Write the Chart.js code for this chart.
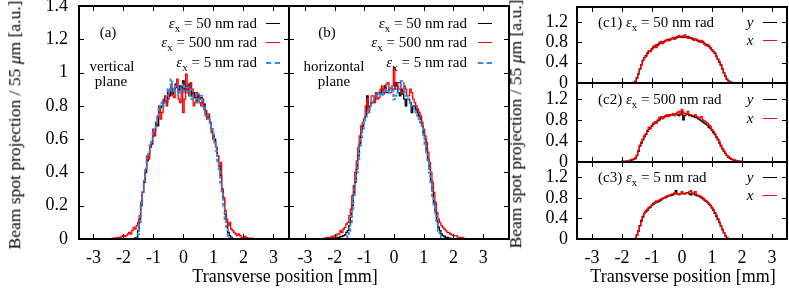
<!DOCTYPE html>
<html><head><meta charset="utf-8">
<script src="https://cdn.jsdelivr.net/npm/chart.js@4.4.1/dist/chart.umd.min.js"></script>
<style>
html,body{margin:0;padding:0;background:#fff;}
#wrap{position:relative;width:789px;height:289px;overflow:hidden;font-family:"Liberation Serif","Times New Roman",serif;color:#000;}
canvas{position:absolute;left:0;top:0;}
.t{position:absolute;white-space:nowrap;line-height:1;font-size:15px;}
.c{transform:translate(-50%,-50%);}
.r{transform:translate(-100%,-50%);}
.l{transform:translate(0,-50%);}
.s{font-size:11px;position:relative;top:4px;}
.ln{position:absolute;width:14px;height:0;}
.ttl{position:absolute;white-space:nowrap;line-height:1;font-size:18px;transform:translate(-50%,-50%);}
.yt{position:absolute;white-space:nowrap;line-height:1;font-size:17.5px;transform:translate(-50%,-50%) rotate(-90deg);}
</style></head>
<body><div id="wrap">
<canvas id="ca" width="789" height="289"></canvas>
<canvas id="cb" width="789" height="289"></canvas>
<canvas id="cc1" width="789" height="289"></canvas>
<canvas id="cc2" width="789" height="289"></canvas>
<canvas id="cc3" width="789" height="289"></canvas>

<div class="yt" style="left:15px;top:125px;">Beam spot projection / 55 <i>μ</i>m [a.u.]</div>
<div class="yt" style="left:516px;top:124px;">Beam spot projection / 55 <i>μ</i>m [a.u.]</div>
<div class="ttl" style="left:285px;top:276px;">Transverse position [mm]</div>
<div class="ttl" style="left:683px;top:276px;">Transverse position [mm]</div>

<div class="t c" style="left:108px;top:32px;">(a)</div>
<div class="t c" style="left:112px;top:66px;">vertical</div>
<div class="t c" style="left:111px;top:81px;">plane</div>
<div class="t r" style="left:257px;top:23px;"><i>ε</i><span class="s">x</span> = 50 nm rad</div>
<div class="t r" style="left:257px;top:42px;"><i>ε</i><span class="s">x</span> = 500 nm rad</div>
<div class="t r" style="left:257px;top:62px;"><i>ε</i><span class="s">x</span> = 5 nm rad</div>
<div class="ln" style="left:266px;top:23px;border-top:1.5px solid #000;"></div>
<div class="ln" style="left:266px;top:42px;border-top:1.5px solid #ff0000;"></div>
<div class="ln" style="left:266px;top:62px;border-top:2px dashed #2a8fe8;"></div>

<div class="t c" style="left:327px;top:32px;">(b)</div>
<div class="t c" style="left:334px;top:66px;">horizontal</div>
<div class="t c" style="left:334px;top:81px;">plane</div>
<div class="t r" style="left:467px;top:23px;"><i>ε</i><span class="s">x</span> = 50 nm rad</div>
<div class="t r" style="left:467px;top:42px;"><i>ε</i><span class="s">x</span> = 500 nm rad</div>
<div class="t r" style="left:467px;top:62px;"><i>ε</i><span class="s">x</span> = 5 nm rad</div>
<div class="ln" style="left:478px;top:23px;border-top:1.5px solid #000;"></div>
<div class="ln" style="left:478px;top:42px;border-top:1.5px solid #ff0000;"></div>
<div class="ln" style="left:478px;top:62px;border-top:2px dashed #2a8fe8;"></div>

<div class="t l" style="left:598px;top:22px;">(c1) <i>ε</i><span class="s">x</span> = 50 nm rad</div>
<div class="t c" style="left:750px;top:22px;"><i>y</i></div>
<div class="t c" style="left:750px;top:40px;"><i>x</i></div>
<div class="ln" style="left:763px;top:22px;border-top:1.5px solid #000;"></div>
<div class="ln" style="left:763px;top:40px;border-top:1.5px solid #ff0000;"></div>

<div class="t l" style="left:598px;top:99px;">(c2) <i>ε</i><span class="s">x</span> = 500 nm rad</div>
<div class="t c" style="left:750px;top:99px;"><i>y</i></div>
<div class="t c" style="left:750px;top:118px;"><i>x</i></div>
<div class="ln" style="left:763px;top:99px;border-top:1.5px solid #000;"></div>
<div class="ln" style="left:763px;top:118px;border-top:1.5px solid #ff0000;"></div>

<div class="t l" style="left:598px;top:177px;">(c3) <i>ε</i><span class="s">x</span> = 5 nm rad</div>
<div class="t c" style="left:750px;top:177px;"><i>y</i></div>
<div class="t c" style="left:750px;top:195px;"><i>x</i></div>
<div class="ln" style="left:763px;top:177px;border-top:1.5px solid #000;"></div>
<div class="ln" style="left:763px;top:195px;border-top:1.5px solid #ff0000;"></div>
</div>
<script>
// Bin centres [mm], 0.05 mm spacing
const xPos = [-2.4,-2.35,-2.3,-2.25,-2.2,-2.15,-2.1,-2.05,
 -2.0,-1.95,-1.9,-1.85,-1.8,-1.75,-1.7,-1.65,-1.6,-1.55,
 -1.5,-1.45,-1.4,-1.35,-1.3,-1.25,-1.2,-1.15,-1.1,-1.05,
 -1.0,-0.95,-0.9,-0.85,-0.8,-0.75,-0.7,-0.65,-0.6,-0.55,
 -0.5,-0.45,-0.4,-0.35,-0.3,-0.25,-0.2,-0.15,-0.1,-0.05,
 0,0.05,0.1,0.15,0.2,0.25,0.3,0.35,0.4,0.45,
 0.5,0.55,0.6,0.65,0.7,0.75,0.8,0.85,0.9,0.95,
 1.0,1.05,1.1,1.15,1.2,1.25,1.3,1.35,1.4,1.45,
 1.5,1.55,1.6,1.65,1.7,1.75,1.8,1.85,1.9,1.95,
 2.0,2.05,2.1,2.15,2.2,2.25,2.3,2.35,2.4];

// (a) vertical plane
const aEmit50 = [0,0,0,0,0,0,0,0,
 0,0,0,0,0,0,0,0,0.005,0.01,
 0.05,0.12,0.2,0.28,0.34,0.4,0.47,0.5,0.55,0.57,
 0.62,0.65,0.7,0.68,0.76,0.79,0.8,0.83,0.84,0.82,
 0.88,0.86,0.9,0.87,0.9,0.93,0.91,0.88,0.92,0.9,
 0.95,0.9,0.92,0.88,0.93,0.89,0.86,0.88,0.85,0.83,
 0.86,0.84,0.85,0.8,0.81,0.77,0.75,0.72,0.7,0.66,
 0.62,0.6,0.55,0.5,0.44,0.38,0.3,0.24,0.15,0.1,
 0.04,0.02,0.01,0,0,0,0,0,0,0,
 0,0,0,0,0,0,0,0,0];
const aEmit500 = [0,0.005,0,0.005,0.01,0.005,0.01,0.015,
 0.02,0.015,0.02,0.03,0.04,0.03,0.05,0.07,0.06,0.08,
 0.1,0.14,0.22,0.28,0.35,0.42,0.5,0.48,0.55,0.58,
 0.66,0.62,0.68,0.74,0.8,0.72,0.76,0.84,0.86,0.8,
 0.84,0.9,0.93,0.86,0.85,0.92,0.96,0.84,0.82,0.9,
 0.76,0.84,0.99,0.9,0.86,0.94,0.9,0.8,0.82,0.88,
 0.87,0.82,0.8,0.84,0.78,0.74,0.72,0.75,0.7,0.64,
 0.6,0.58,0.55,0.5,0.44,0.46,0.3,0.25,0.17,0.12,
 0.08,0.1,0.06,0.05,0.04,0.03,0.02,0.03,0.02,0.01,
 0.01,0.015,0.01,0.005,0.005,0,0.005,0,0];
const aEmit5 = [0,0,0,0,0,0,0,0,
 0,0,0,0,0,0,0,0,0,0,
 0.03,0.1,0.2,0.28,0.35,0.42,0.5,0.52,0.57,0.6,
 0.64,0.66,0.7,0.74,0.78,0.8,0.82,0.8,0.84,0.86,
 0.9,0.88,0.96,0.9,0.88,0.92,0.92,0.87,0.89,0.91,
 0.93,0.88,0.88,0.91,0.9,0.86,0.84,0.87,0.87,0.84,
 0.82,0.84,0.86,0.8,0.79,0.76,0.75,0.72,0.7,0.67,
 0.63,0.58,0.53,0.47,0.41,0.34,0.27,0.2,0.12,0.06,
 0.02,0.005,0,0,0,0,0,0,0,0,
 0,0,0,0,0,0,0,0,0];

// (b) horizontal plane
const bEmit50 = [0,0,0,0,0,0,0,0,
 0.005,0.005,0.01,0.01,0.015,0.015,0.02,0.025,0.04,0.05,
 0.08,0.13,0.2,0.27,0.34,0.42,0.5,0.57,0.64,0.68,
 0.72,0.74,0.86,0.78,0.8,0.82,0.82,0.85,0.86,0.88,
 0.88,0.87,0.9,0.89,0.92,0.88,0.88,0.9,0.91,0.9,
 0.9,0.94,0.92,0.88,0.86,0.9,0.87,0.84,0.8,0.84,
 0.84,0.82,0.76,0.8,0.8,0.78,0.76,0.74,0.72,0.68,
 0.64,0.6,0.54,0.48,0.42,0.35,0.29,0.22,0.16,0.11,
 0.07,0.05,0.03,0.02,0.015,0.01,0.01,0.005,0.005,0,
 0,0,0,0,0,0,0,0,0];
const bEmit500 = [0.005,0,0.005,0.01,0.005,0.01,0.015,0.01,
 0.02,0.02,0.03,0.03,0.05,0.04,0.06,0.07,0.09,0.1,
 0.14,0.18,0.26,0.32,0.4,0.47,0.55,0.62,0.68,0.7,
 0.72,0.8,0.84,0.76,0.8,0.86,0.86,0.82,0.88,0.84,
 0.85,0.9,0.92,0.87,0.9,0.93,0.94,0.88,0.88,0.92,
 1.03,0.9,0.9,0.94,0.94,0.88,0.88,0.92,0.9,0.86,
 0.86,0.9,0.88,0.84,0.82,0.8,0.78,0.76,0.74,0.7,
 0.66,0.62,0.58,0.52,0.46,0.4,0.34,0.28,0.22,0.16,
 0.12,0.1,0.08,0.07,0.06,0.05,0.04,0.04,0.03,0.025,
 0.02,0.02,0.02,0.01,0.01,0.01,0.01,0.005,0.005];
const bEmit5 = [0,0,0,0,0,0,0,0,
 0,0,0,0,0,0,0,0,0.01,0.02,
 0.05,0.1,0.18,0.25,0.33,0.4,0.48,0.55,0.6,0.65,
 0.7,0.72,0.76,0.78,0.8,0.82,0.84,0.85,0.86,0.86,
 0.88,0.87,0.86,0.88,0.9,0.89,0.88,0.9,0.92,0.9,
 0.84,0.86,0.88,0.9,0.92,0.95,0.95,0.9,0.86,0.86,
 0.84,0.82,0.8,0.79,0.78,0.76,0.74,0.72,0.7,0.67,
 0.62,0.57,0.52,0.46,0.4,0.33,0.26,0.2,0.14,0.09,
 0.05,0.02,0.01,0,0,0,0,0,0,0,
 0,0,0,0,0,0,0,0,0];

// (c1) 50 nm rad, (c2) 500 nm rad, (c3) 5 nm rad : y (black) and x (red) projections
const c1Y = [0,0,0,0,0,0,0,0,
 0,0,0,0,0,0,0,0,0.01,0.03,
 0.1,0.18,0.28,0.36,0.44,0.5,0.54,0.58,0.62,0.64,
 0.68,0.7,0.72,0.75,0.76,0.78,0.8,0.8,0.82,0.83,
 0.84,0.86,0.86,0.87,0.88,0.89,0.9,0.9,0.9,0.91,
 0.92,0.9,0.9,0.91,0.92,0.89,0.88,0.88,0.86,0.86,
 0.84,0.83,0.82,0.81,0.8,0.78,0.76,0.74,0.72,0.69,
 0.66,0.62,0.58,0.53,0.47,0.41,0.35,0.28,0.2,0.13,
 0.07,0.04,0.02,0.01,0.005,0,0,0,0,0,
 0,0,0,0,0,0,0,0,0];
const c1X = [0,0,0,0,0,0,0,0,
 0,0,0,0,0,0,0,0,0.01,0.03,
 0.09,0.18,0.27,0.36,0.45,0.5,0.52,0.6,0.64,0.62,
 0.66,0.72,0.74,0.7,0.74,0.8,0.82,0.78,0.8,0.84,
 0.86,0.83,0.84,0.88,0.9,0.86,0.88,0.92,0.94,0.9,
 0.9,0.93,0.95,0.9,0.88,0.9,0.9,0.86,0.84,0.87,
 0.86,0.82,0.8,0.84,0.82,0.77,0.74,0.76,0.74,0.7,
 0.64,0.63,0.6,0.52,0.46,0.42,0.36,0.28,0.2,0.14,
 0.08,0.04,0.02,0.01,0,0,0,0,0,0,
 0,0,0,0,0,0,0,0,0];
const c2Y = [0,0,0,0,0,0,0.005,0.005,
 0.01,0.01,0.01,0.015,0.02,0.02,0.03,0.04,0.05,0.07,
 0.12,0.2,0.3,0.36,0.42,0.48,0.52,0.58,0.62,0.64,
 0.68,0.72,0.74,0.76,0.78,0.8,0.84,0.84,0.86,0.86,
 0.88,0.88,0.9,0.89,0.9,0.9,0.92,0.9,0.88,0.9,
 0.96,0.8,0.88,0.92,0.92,0.88,0.88,0.86,0.86,0.85,
 0.84,0.82,0.8,0.78,0.76,0.74,0.72,0.7,0.66,0.64,
 0.6,0.56,0.52,0.47,0.42,0.36,0.3,0.25,0.2,0.16,
 0.12,0.09,0.07,0.05,0.04,0.03,0.02,0.015,0.01,0.01,
 0.005,0.005,0,0,0,0,0,0,0];
const c2X = [0,0,0,0,0,0,0,0.005,
 0.01,0.01,0.01,0.015,0.02,0.03,0.04,0.05,0.06,0.08,
 0.13,0.22,0.32,0.38,0.44,0.5,0.54,0.6,0.66,0.64,
 0.7,0.74,0.76,0.74,0.8,0.84,0.86,0.82,0.84,0.88,
 0.9,0.86,0.88,0.9,0.92,0.88,0.9,0.94,0.96,0.9,
 1.0,0.94,0.92,0.9,0.96,0.9,0.9,0.88,0.88,0.9,
 0.86,0.84,0.84,0.86,0.8,0.78,0.76,0.74,0.7,0.68,
 0.62,0.58,0.54,0.48,0.44,0.38,0.32,0.26,0.22,0.17,
 0.13,0.1,0.08,0.06,0.05,0.04,0.03,0.02,0.02,0.01,
 0.01,0.005,0.005,0,0,0,0,0,0];
const c3Y = [0,0,0,0,0,0,0,0,
 0,0,0,0,0,0,0,0,0,0.01,
 0.08,0.16,0.26,0.36,0.44,0.5,0.53,0.56,0.6,0.62,
 0.66,0.68,0.7,0.72,0.72,0.74,0.76,0.78,0.8,0.8,
 0.82,0.84,0.84,0.85,0.86,0.88,0.94,0.88,0.88,0.88,
 0.9,0.89,0.88,0.9,0.9,0.88,0.86,0.88,0.88,0.86,
 0.84,0.84,0.82,0.8,0.78,0.76,0.74,0.72,0.68,0.65,
 0.6,0.56,0.5,0.44,0.38,0.32,0.25,0.18,0.12,0.06,
 0.02,0.005,0,0,0,0,0,0,0,0,
 0,0,0,0,0,0,0,0,0];
const c3X = [0,0,0,0,0,0,0,0,
 0,0,0,0,0,0,0,0,0,0.01,
 0.07,0.15,0.25,0.34,0.42,0.5,0.55,0.58,0.62,0.63,
 0.66,0.7,0.72,0.74,0.74,0.76,0.78,0.79,0.8,0.82,
 0.84,0.85,0.86,0.87,0.88,0.9,0.9,0.88,0.86,0.88,
 0.92,0.88,0.88,0.9,0.9,0.92,0.94,0.9,0.9,0.92,
 0.86,0.85,0.84,0.82,0.8,0.77,0.74,0.72,0.7,0.66,
 0.62,0.57,0.52,0.46,0.4,0.33,0.26,0.19,0.13,0.07,
 0.03,0.01,0,0,0,0,0,0,0,0,
 0,0,0,0,0,0,0,0,0];

// Tick values and labels
const xTicks = [-3,-2,-1,0,1,2,3];
const xTickLabels = ['-3','-2','-1','0','1','2','3'];
const yTicksAB = [0,0.2,0.4,0.6,0.8,1.0,1.2,1.4];
const yTickLabelsAB = ['0','0.2','0.4','0.6','0.8','1','1.2','1.4'];
const yTicksC = [0,0.4,0.8,1.2];
const yTickLabelsC = ['0','0.4','0.8','1.2'];

const BLACK = '#000000', RED = '#ff0000', BLUE = '#2a8fe8';
const FONT = {family: 'Liberation Serif', size: 18};

const framePlugin = {
  id: 'frame',
  afterDatasetsDraw(chart, args, o) {
    const {ctx, chartArea: a, scales} = chart;
    ctx.save();
    ctx.strokeStyle = '#000';
    ctx.lineWidth = 1;
    const L = 5;
    ctx.beginPath();
    o.xt.forEach(v => {
      const p = Math.round(scales.x.getPixelForValue(v)) + 0.5;
      ctx.moveTo(p, a.bottom); ctx.lineTo(p, a.bottom - L);
      ctx.moveTo(p, a.top); ctx.lineTo(p, a.top + L);
    });
    o.yt.forEach(v => {
      const p = Math.round(scales.y.getPixelForValue(v)) + 0.5;
      ctx.moveTo(a.left, p); ctx.lineTo(a.left + L, p);
      ctx.moveTo(a.right, p); ctx.lineTo(a.right - L, p);
    });
    ctx.stroke();
    ctx.lineWidth = 2;
    ctx.strokeRect(a.left, a.top, a.right - a.left, a.bottom - a.top);
    ctx.restore();
  }
};

function ds(vals, color, order, dash) {
  return {
    data: xPos.map((x, i) => ({x: x, y: vals[i]})),
    borderColor: color,
    borderWidth: dash ? 2 : 1.3,
    borderDash: dash || [],
    stepped: 'middle',
    pointRadius: 0,
    fill: false,
    order: order
  };
}

function panel(id, sets, o) {
  new Chart(document.getElementById(id), {
    type: 'line',
    data: {datasets: sets},
    plugins: [framePlugin],
    options: {
      responsive: false, animation: false, devicePixelRatio: 1,
      layout: {padding: o.pad},
      plugins: {legend: {display: false}, tooltip: {enabled: false}, frame: {xt: xTicks, yt: o.yt}},
      scales: {
        x: {
          type: 'linear', min: o.xmin, max: o.xmax,
          display: o.showX,
          grid: {display: false, drawTicks: false},
          border: {display: false},
          ticks: {color: '#000', font: FONT, padding: 8, autoSkip: false, maxRotation: 0,
                  callback: (v) => { const k = xTicks.indexOf(v); return k >= 0 ? xTickLabels[k] : ''; }},
          afterBuildTicks: (s) => { s.ticks = xTicks.map(v => ({value: v})); },
          afterFit: (s) => { s.height = o.showX ? 50 : 0; s.paddingLeft = 0; s.paddingRight = 0; s.paddingTop = 0; s.paddingBottom = 0; }
        },
        y: {
          type: 'linear', min: 0, max: o.ymax,
          display: o.showY,
          grid: {display: false, drawTicks: false},
          border: {display: false},
          ticks: {color: '#000', font: FONT, padding: o.ypad, autoSkip: false,
                  callback: (v) => { const k = o.yt.findIndex(t => Math.abs(t - v) < 1e-6); return k >= 0 ? o.yl[k] : ''; }},
          afterBuildTicks: (s) => { s.ticks = o.yt.map(v => ({value: v})); },
          afterFit: (s) => { s.width = o.showY ? o.yw : 0; s.paddingLeft = 0; s.paddingRight = 0; s.paddingTop = 0; s.paddingBottom = 0; }
        }
      }
    }
  });
}

panel('ca', [ds(aEmit50, BLACK, 3), ds(aEmit500, RED, 2), ds(aEmit5, BLUE, 1, [3, 2])],
  {pad: {left: 0, right: 500, top: 6, bottom: 0}, xmin: -3.48, xmax: 3.52, ymax: 1.4,
   showX: true, showY: true, yt: yTicksAB, yl: yTickLabelsAB, ypad: 11, yw: 79});
panel('cb', [ds(bEmit50, BLACK, 3), ds(bEmit500, RED, 2), ds(bEmit5, BLUE, 1, [3, 2])],
  {pad: {left: 289, right: 280, top: 6, bottom: 0}, xmin: -3.54, xmax: 3.87, ymax: 1.4,
   showX: true, showY: false, yt: yTicksAB, yl: yTickLabelsAB, ypad: 11, yw: 0});
panel('cc1', [ds(c1Y, BLACK, 2), ds(c1X, RED, 1)],
  {pad: {left: 500, right: 2, top: 7, bottom: 206}, xmin: -3.5, xmax: 3.5, ymax: 1.5,
   showX: false, showY: true, yt: yTicksC, yl: yTickLabelsC, ypad: 9, yw: 77});
panel('cc2', [ds(c2Y, BLACK, 2), ds(c2X, RED, 1)],
  {pad: {left: 500, right: 2, top: 83, bottom: 127}, xmin: -3.5, xmax: 3.5, ymax: 1.5,
   showX: false, showY: true, yt: yTicksC, yl: yTickLabelsC, ypad: 9, yw: 77});
panel('cc3', [ds(c3Y, BLACK, 2), ds(c3X, RED, 1)],
  {pad: {left: 500, right: 2, top: 162, bottom: 0}, xmin: -3.5, xmax: 3.5, ymax: 1.5,
   showX: true, showY: true, yt: yTicksC, yl: yTickLabelsC, ypad: 9, yw: 77});
</script>
</body></html>
